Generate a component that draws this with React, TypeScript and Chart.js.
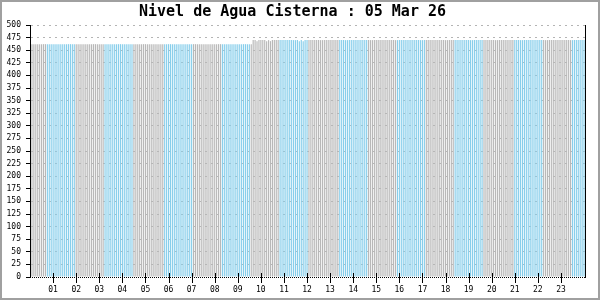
import React, { useEffect, useRef } from "react";
import { Chart, registerables } from "chart.js";

Chart.register(...registerables);

const TITLE = "Nivel de Agua Cisterna : 05 Mar 26";

// Hour tick labels shown on the x axis
const HOUR_LABELS = [
  "01", "02", "03", "04", "05", "06", "07", "08", "09", "10", "11", "12",
  "13", "14", "15", "16", "17", "18", "19", "20", "21", "22", "23",
];

const MINUTES_PER_READING = 5;

// Water level readings, one every 5 minutes (00:05 ... 24:00), 24 per row = 2 hours
const LEVEL = [
  462, 462, 462, 462, 462, 462, 462, 462, 462, 462, 462, 462, 462, 462, 462, 462, 462, 462, 462, 462, 462, 462, 462, 462,
  462, 462, 462, 462, 462, 462, 462, 462, 462, 462, 462, 462, 462, 462, 462, 462, 462, 462, 462, 462, 462, 462, 462, 462,
  462, 462, 462, 462, 462, 462, 462, 462, 462, 462, 462, 462, 462, 462, 462, 462, 462, 462, 462, 462, 462, 462, 462, 462,
  462, 462, 462, 462, 462, 462, 462, 462, 462, 462, 462, 462, 462, 462, 462, 462, 462, 462, 462, 462, 462, 462, 462, 462,
  462, 462, 462, 462, 462, 462, 462, 462, 462, 462, 462, 462, 462, 462, 462, 462, 462, 462, 462, 470, 470, 468, 470, 470,
  470, 470, 468, 470, 468, 470, 470, 470, 470, 470, 470, 470, 470, 470, 470, 470, 470, 470, 470, 468, 470, 468, 470, 470,
  470, 470, 470, 470, 470, 470, 470, 470, 470, 470, 470, 470, 470, 470, 470, 470, 470, 470, 470, 470, 470, 470, 470, 470,
  470, 470, 470, 470, 470, 470, 470, 470, 470, 470, 470, 470, 470, 470, 470, 470, 470, 470, 470, 470, 470, 470, 470, 470,
  470, 470, 470, 470, 470, 470, 470, 470, 470, 470, 470, 470, 470, 470, 470, 470, 470, 470, 470, 470, 470, 470, 470, 470,
  470, 470, 470, 470, 470, 470, 470, 470, 470, 470, 470, 470, 470, 470, 470, 470, 470, 470, 470, 470, 470, 470, 470, 470,
  470, 470, 470, 470, 470, 470, 470, 470, 470, 470, 470, 470, 470, 470, 470, 470, 470, 470, 470, 470, 470, 470, 470, 470,
  470, 470, 470, 470, 470, 470, 470, 470, 470, 470, 470, 470, 470, 470, 470, 470, 470, 470, 470, 470, 470, 470, 470, 470,
];

const Y_MIN = 0;
const Y_MAX = 500;
const Y_STEP = 25;

// Category labels: time of each reading
const TIMES = LEVEL.map((_, i) => {
  const m = (i + 1) * MINUTES_PER_READING;
  const hh = String(Math.floor(m / 60)).padStart(2, "0");
  const mm = String(m % 60).padStart(2, "0");
  return `${hh}:${mm}`;
});

// styles
const BLUE = "#87CEEB";
const GRAY = "#b8b8b8";
const STRIPE_LEN = 15.16;
const STRIPE_PHASE = 7.7;
const MONO = "'DejaVu Sans Mono', monospace";

function hourLabelAt(index: number): string {
  const t = TIMES[index];
  if (!t || !t.endsWith(":00")) return "";
  const h = t.slice(0, 2);
  return HOUR_LABELS.includes(h) ? h : "";
}

const decorPlugin = {
  id: "decor",
  beforeDraw(chart: any) {
    const { ctx, width, height } = chart;
    ctx.save();
    ctx.fillStyle = "#ffffff";
    ctx.fillRect(0, 0, width, height);
    ctx.restore();
  },
  afterDraw(chart: any) {
    const { ctx, chartArea, scales, width, height } = chart;
    const { top, bottom, left, right } = chartArea;
    const by = Math.round(bottom) + 0.5;
    ctx.save();
    ctx.strokeStyle = "#000000";
    ctx.lineWidth = 1;
    // right edge of plot
    const rx = Math.round(right) + 0.5;
    ctx.beginPath();
    ctx.moveTo(rx, Math.round(top));
    ctx.lineTo(rx, Math.round(bottom) + 1);
    ctx.stroke();
    // left axis
    const lx = Math.round(left) - 0.5;
    ctx.beginPath();
    ctx.moveTo(lx, Math.round(top));
    ctx.lineTo(lx, Math.round(bottom) + 1);
    ctx.stroke();
    // dotted x axis line
    ctx.fillStyle = "#ffffff";
    ctx.fillRect(Math.round(left), Math.round(bottom), Math.round(right - left), 1);
    ctx.setLineDash([1, 1]);
    ctx.beginPath();
    ctx.moveTo(Math.round(left) - 1, by);
    ctx.lineTo(Math.round(right) + 1, by);
    ctx.stroke();
    ctx.setLineDash([]);
    // hour tick marks crossing the x axis
    const xs = scales.x;
    for (let i = 0; i < TIMES.length; i++) {
      if (!hourLabelAt(i)) continue;
      const x = Math.round(xs.getPixelForValue(i)) + 0.5;
      ctx.beginPath();
      ctx.moveTo(x, Math.round(bottom) - 4);
      ctx.lineTo(x, Math.round(bottom) + 6);
      ctx.stroke();
    }
    // outer frame
    ctx.strokeStyle = "#a0a0a0";
    ctx.lineWidth = 2;
    ctx.strokeRect(1, 1, width - 2, height - 2);
    ctx.restore();
  },
};

export default function App() {
  const ref = useRef<HTMLCanvasElement | null>(null);

  useEffect(() => {
    if (!ref.current) return;
    const chart = new Chart(ref.current, {
      type: "bar",
      data: {
        labels: TIMES,
        datasets: [
          {
            data: LEVEL,
            backgroundColor: (c: any) =>
              Math.floor((c.dataIndex + STRIPE_PHASE) / STRIPE_LEN) % 2 ? BLUE : GRAY,
            borderWidth: 0,
            inflateAmount: 0,
            barPercentage: 0.6,
            categoryPercentage: 1,
          },
        ],
      },
      options: {
        responsive: false,
        animation: false,
        layout: { padding: { left: 0, right: 15, top: 0, bottom: 0 } },
        plugins: {
          legend: { display: false },
          tooltip: { enabled: false },
          title: {
            display: true,
            text: TITLE,
            color: "#000",
            font: { family: MONO, size: 15, weight: "bold" },
            padding: { top: 3, bottom: 4 },
          },
        },
        scales: {
          x: {
            grid: { display: false, drawTicks: true, tickLength: 5, offset: false },
            border: { display: false },
            ticks: {
              autoSkip: false,
              maxRotation: 0,
              minRotation: 0,
              padding: 3,
              color: "#000",
              font: { family: MONO, size: 8 },
              callback: (_v: any, i: number) => hourLabelAt(i),
            },
            afterFit: (s: any) => {
              s.height = 23;
            },
          },
          y: {
            min: Y_MIN,
            max: Y_MAX,
            grid: {
              display: true,
              color: "#b4b4b4",
              drawTicks: true,
              tickLength: 5,
              tickColor: "#000",
              tickBorderDash: [],
            },
            border: { display: false, dash: [2, 4] },
            ticks: {
              stepSize: Y_STEP,
              padding: 5,
              color: "#000",
              font: { family: MONO, size: 8 },
            },
            afterFit: (s: any) => {
              s.width = 31;
            },
          },
        },
      },
      plugins: [decorPlugin],
    });
    return () => chart.destroy();
  }, []);

  return (
    <div style={{ position: "absolute", left: 0, top: 0, width: 600, height: 300 }}>
      <canvas ref={ref} width={600} height={300} />
    </div>
  );
}
